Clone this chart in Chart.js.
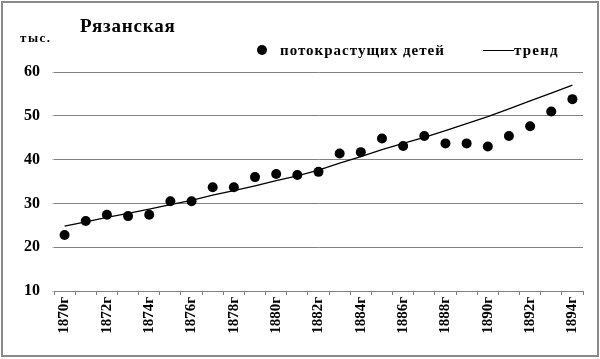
<!DOCTYPE html>
<html>
<head>
<meta charset="utf-8">
<script src="https://cdn.jsdelivr.net/npm/chart.js@4/dist/chart.umd.min.js"></script>
<style>
  html, body { margin: 0; padding: 0; background: #fff; }
  #wrap { position: relative; width: 600px; height: 359px; overflow: hidden; }
  #frame { position: absolute; left: 1px; top: 1px; width: 594px; height: 352px; border: 2px solid #8a8a8a; pointer-events: none; }
  canvas { position: absolute; left: 0; top: 0; }
  .t { position: absolute; font-family: "Liberation Serif", "DejaVu Serif", serif; font-weight: bold; color: #000; white-space: nowrap; line-height: 1; }
  #title { left: 80px; top: 16px; font-size: 19px; letter-spacing: 0.8px; }
  #unit { left: 20px; top: 31px; font-size: 13px; letter-spacing: 1.5px; }
  #leg1 { left: 280px; top: 43px; font-size: 15px; letter-spacing: 1px; }
  #leg2 { left: 514px; top: 43px; font-size: 15px; letter-spacing: 1.2px; }
  #dot { position: absolute; left: 257px; top: 45px; width: 10px; height: 10px; border-radius: 50%; background: #000; }
  #lline { position: absolute; left: 483px; top: 50px; width: 31px; height: 1px; background: #000; }
</style>
</head>
<body>
<div id="wrap">
  <canvas id="c" width="600" height="359"></canvas>
  <div class="t" id="title">Рязанская</div>
  <div class="t" id="unit">тыс.</div>
  <div id="dot"></div>
  <div class="t" id="leg1">потокрастущих детей</div>
  <div id="lline"></div>
  <div class="t" id="leg2">тренд</div>
  <div id="frame"></div>
</div>
<script>
const years = ["1870г","1871г","1872г","1873г","1874г","1875г","1876г","1877г","1878г","1879г","1880г","1881г","1882г","1883г","1884г","1885г","1886г","1887г","1888г","1889г","1890г","1891г","1892г","1893г","1894г"];
const children = [22.8, 26.0, 27.4, 27.1, 27.4, 30.5, 30.5, 33.7, 33.7, 36.0, 36.7, 36.5, 37.2, 41.4, 41.7, 44.8, 43.1, 45.4, 43.7, 43.7, 43.0, 45.4, 47.6, 51.0, 53.8];
const trend = [24.8, 25.8, 26.8, 27.7, 28.7, 29.7, 30.7, 31.9, 32.9, 34.0, 35.2, 36.3, 37.6, 39.2, 40.7, 42.3, 43.7, 45.1, 46.6, 48.2, 49.8, 51.6, 53.4, 55.2, 57.0];
const yTicks = [10, 20, 30, 40, 50, 60];

const FONT = "'Liberation Serif', 'DejaVu Serif', serif";

new Chart(document.getElementById('c'), {
  type: 'line',
  data: {
    labels: years,
    datasets: [
      {
        label: 'тренд',
        data: trend,
        borderColor: '#000',
        borderWidth: 1.3,
        pointRadius: 0,
        tension: 0,
        fill: false,
        order: 2
      },
      {
        label: 'потокрастущих детей',
        data: children,
        showLine: false,
        pointRadius: 5,
        pointBackgroundColor: '#000',
        pointBorderColor: '#000',
        pointBorderWidth: 0,
        order: 1
      }
    ]
  },
  options: {
    responsive: false,
    animation: false,
    devicePixelRatio: 1,
    layout: { padding: { left: 0, right: 17, top: 72, bottom: 0 } },
    plugins: { legend: { display: false }, tooltip: { enabled: false }, title: { display: false } },
    scales: {
      x: {
        type: 'category',
        offset: true,
        grid: { display: true, offset: true, drawOnChartArea: false, drawTicks: true, tickLength: 4, color: '#808080' },
        border: { display: true, color: '#808080', width: 1 },
        ticks: {
          autoSkip: false,
          minRotation: 90,
          maxRotation: 90,
          padding: 2,
          color: '#000',
          font: { family: FONT, size: 15, weight: 'bold' },
          callback: function (v, i) { return i % 2 === 0 ? this.getLabelForValue(v) : ''; }
        },
        afterFit: s => { s.height = 68; }
      },
      y: {
        min: 10,
        max: 60,
        afterBuildTicks: s => { s.ticks = yTicks.map(v => ({ value: v })); },
        grid: { color: '#808080', lineWidth: 1, tickLength: 2, tickColor: '#c0c0c0' },
        border: { display: false },
        ticks: {
          padding: 12,
          color: '#000',
          font: { family: FONT, size: 16, weight: 'bold' }
        },
        afterFit: s => { s.width = 54; }
      }
    }
  }
});
</script>
</body>
</html>
